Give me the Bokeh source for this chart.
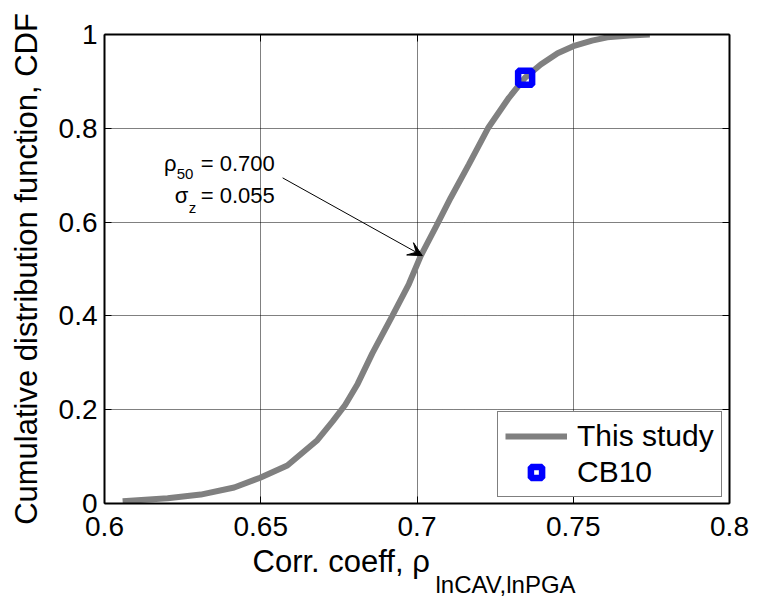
import math
from bokeh.plotting import figure
from bokeh.models import (Range1d, LinearAxis, FixedTicker, NumeralTickFormatter,
                          Label, Arrow, VeeHead, Legend, LegendItem, Title)
from bokeh.embed import file_html
from bokeh.resources import INLINE

# ---- data ----
x_vals = [0.6058, 0.6202, 0.6308, 0.6415, 0.6498, 0.6585, 0.6681, 0.6730, 0.6770,
          0.6810, 0.6857, 0.6921, 0.6974, 0.7012, 0.7062, 0.7108, 0.7166, 0.7227,
          0.7294, 0.7346, 0.7396, 0.7450, 0.7500, 0.7560, 0.7609, 0.7680, 0.7745]
cdf_vals = [0.005, 0.011, 0.019, 0.034, 0.055, 0.081, 0.135, 0.175, 0.210,
            0.255, 0.320, 0.400, 0.468, 0.528, 0.592, 0.652, 0.723, 0.800,
            0.865, 0.908, 0.936, 0.960, 0.975, 0.987, 0.994, 0.998, 1.000]
cb10_x = [0.7346]
cb10_y = [0.908]
x_ticks = [0.6, 0.65, 0.7, 0.75, 0.8]
y_ticks = [0, 0.2, 0.4, 0.6, 0.8, 1.0]
series_labels = ["This study", "CB10"]
arrow_from = (0.6570, 0.6943)
arrow_to = (0.7017, 0.5285)

FONT = "Liberation Sans"

p = figure(width=757, height=597, output_backend="svg", toolbar_location=None,
           x_range=Range1d(0.6, 0.8), y_range=Range1d(0, 1),
           min_border_left=104, min_border_right=28, min_border_top=34,
           min_border_bottom=94)
p.outline_line_color = None
p.background_fill_color = "white"

# grid
for g in (p.xgrid[0], p.ygrid[0]):
    g.grid_line_color = "black"
    g.grid_line_dash = "1 1"
    g.grid_line_width = 1
p.xgrid.ticker = FixedTicker(ticks=x_ticks)
p.ygrid.ticker = FixedTicker(ticks=y_ticks)

def style_axis(ax, ticks, show_labels):
    ax.ticker = FixedTicker(ticks=ticks)
    ax.formatter = NumeralTickFormatter(format="0.[00]")
    ax.axis_line_color = "black"
    ax.axis_line_width = 2
    ax.major_tick_in = 7
    ax.major_tick_out = 0
    ax.major_tick_line_color = "black"
    ax.major_tick_line_width = 1
    ax.minor_tick_line_color = None
    ax.major_label_text_font = FONT
    if show_labels:
        ax.major_label_text_font_size = "28px"
        ax.major_label_text_color = "black"
    else:
        ax.major_label_text_font_size = "1px"
        ax.major_label_text_color = None
        ax.major_label_standoff = 0

style_axis(p.xaxis[0], x_ticks, True)
style_axis(p.yaxis[0], y_ticks, True)
p.xaxis[0].major_label_standoff = 13
p.yaxis[0].major_label_standoff = 7

# y axis title
p.yaxis[0].axis_label = "Cumulative distribution function, CDF"
p.yaxis[0].axis_label_text_font = FONT
p.yaxis[0].axis_label_text_font_size = "31px"
p.yaxis[0].axis_label_text_font_style = "normal"
p.yaxis[0].axis_label_text_color = "black"
p.yaxis[0].axis_label_standoff = 12

top = LinearAxis()
right = LinearAxis()
style_axis(top, x_ticks, False)
style_axis(right, y_ticks, False)
p.add_layout(top, "above")
p.add_layout(right, "right")

# x axis title (main text + subscript)
t1 = Title(text="Corr. coeff, ρ", align="left", offset=148, standoff=6,
           text_font=FONT, text_font_size="31px", text_font_style="normal",
           text_color="black")
t2 = Title(text="lnCAV,lnPGA", align="left", offset=331, standoff=-25,
           text_font=FONT, text_font_size="24px", text_font_style="normal",
           text_color="black")
p.add_layout(t1, "below")
p.add_layout(t2, "below")

# curve and marker
line_r = p.line(x_vals, cdf_vals, line_color="#808080", line_width=6)
mark_r = p.scatter(cb10_x, cb10_y, marker="square", size=14, line_width=6.5,
                   line_color="#0000FF", fill_color=None)

# legend
legend = Legend(items=[LegendItem(label=series_labels[0], renderers=[line_r]),
                       LegendItem(label=series_labels[1], renderers=[mark_r])],
                location=(393, 6))
legend.border_line_color = "black"
legend.border_line_width = 1
legend.background_fill_color = "white"
legend.background_fill_alpha = 1
legend.label_text_font = FONT
legend.label_text_font_size = "30px"
legend.label_text_color = "black"
legend.glyph_width = 62
legend.glyph_height = 28
legend.label_height = 28
legend.label_standoff = 10
legend.padding = 7
legend.spacing = 2
legend.margin = 0
p.add_layout(legend, "center")

# annotation
p.add_layout(Arrow(end=VeeHead(size=14, fill_color="black", line_color="black", line_width=1),
                   x_start=arrow_from[0], y_start=arrow_from[1],
                   x_end=arrow_to[0], y_end=arrow_to[1],
                   line_color="black", line_width=1))

def lab(x, y, text, size, **kw):
    p.add_layout(Label(x=x, y=y, text=text, text_font=FONT, text_font_size=size,
                       text_color="black", text_baseline="alphabetic", **kw))

lab(0.61906, 0.7247, "ρ", "22px")
lab(0.62312, 0.7034, "50", "15px")
lab(0.6308, 0.7247, "= 0.700", "22px")
lab(0.62248, 0.656, "σ", "22px")
lab(0.62696, 0.631, "z", "15px")
lab(0.6308, 0.656, "= 0.055", "22px")

open("out.html", "w").write(file_html(p, INLINE))
